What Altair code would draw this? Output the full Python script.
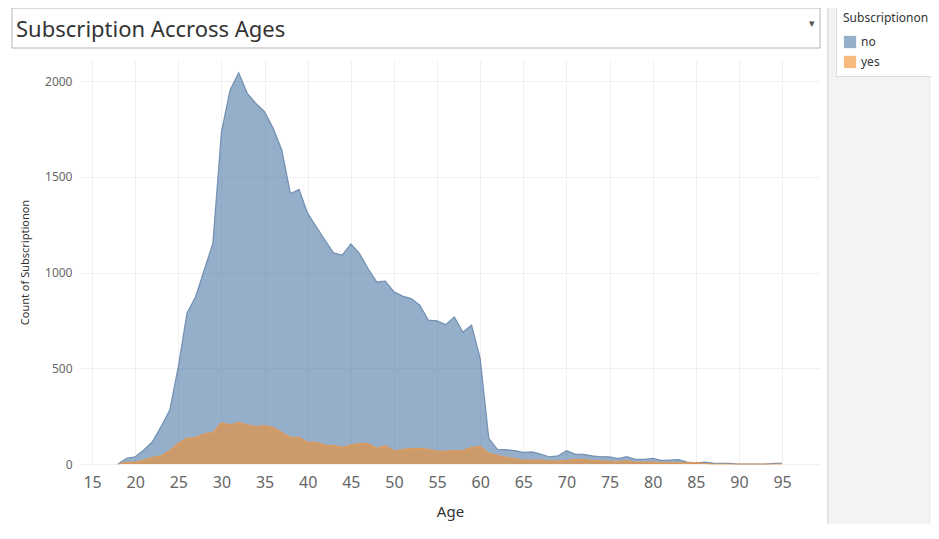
import altair as alt
import pandas as pd

ages = list(range(18, 96))
no_top = [0,30,38,73,117,195,282,509,787,874,1013,1152,1735,1953,2044,1936,1883,1840,1753,1640,
          1413,1434,1309,1239,1170,1103,1091,1149,1100,1021,951,955,900,877,864,829,751,748,728,768,
          688,726,552,134,77,75,70,61,63,52,38,42,70,52,50,42,38,37,28,38,24,24,30,19,21,23,10,5,10,5,
          3,3,0,0,0,0,3,3]
yes = [0,9,9,21,35,42,70,108,134,138,157,164,216,204,218,204,195,200,190,164,139,139,113,113,99,96,87,99,108,106,
       82,96,68,77,80,82,77,68,68,70,70,87,91,56,45,35,28,21,21,21,17,16,19,24,23,19,16,14,14,17,10,10,10,7,7,7,7,7,3,0,
       0,0,0,0,0,0,0,0]
ticks = list(range(15, 100, 5))

df_no = pd.DataFrame({"Age": ages, "Count": no_top, "Subscriptionon": "no"})
df_yes = pd.DataFrame({"Age": ages, "Count": yes, "Subscriptionon": "yes"})

W, H = 740, 404

deco = pd.DataFrame({"k": [0]})
bg = alt.Chart(deco).mark_rect(fill="#f3f3f3").encode(
    x=alt.value(749), x2=alt.value(880), y=alt.value(-70), y2=alt.value(500))
border = alt.Chart(deco).mark_rule(color="#c8c8c8").encode(
    x=alt.value(748), y=alt.value(-70), y2=alt.value(500))
tbox = alt.Chart(deco).mark_rect(fill="white", stroke="#b4b4b4").encode(
    x=alt.value(-68), x2=alt.value(740), y=alt.value(-52), y2=alt.value(-12))
ttext = alt.Chart(deco).mark_text(text="Subscription Accross Ages", align="left", baseline="middle",
                                  font="Noto Sans", fontSize=22, color="#333333").encode(
    x=alt.value(-64), y=alt.value(-30))
arrow = alt.Chart(deco).mark_text(text="▾", fontSize=11, color="#555").encode(
    x=alt.value(732), y=alt.value(-36))

cscale = alt.Scale(domain=["no", "yes"], range=["#4e79a7", "#f28e2b"])
lscale = alt.Scale(domain=["no", "yes"], range=["#5f7fa8", "#e89a50"])
legend = alt.Legend(orient="none", legendX=756, legendY=-54, symbolType="square",
                    symbolSize=150, symbolOpacity=0.6, titleFontWeight="normal",
                    titleFontSize=12, labelFontSize=12, titleColor="#333",
                    labelColor="#333", fillColor="white", strokeColor="#dddddd",
                    padding=7, titlePadding=10, rowPadding=6, labelFont="Noto Sans",
                    titleFont="Noto Sans")

xenc = alt.X("Age:Q", scale=alt.Scale(domain=[13.6, 99.4], nice=False, zero=False),
             axis=alt.Axis(values=ticks, title="Age", labelFontSize=16, labelColor="#666",
                           titleFontSize=15, titleColor="#333", titleFontWeight="normal",
                           gridColor="#f0f0f0", domain=False, ticks=False, labelPadding=10,
                           titlePadding=14, labelFont="Noto Sans", titleFont="Noto Sans"))
yenc = alt.Y("Count:Q", stack=None, scale=alt.Scale(domain=[0, 2110], nice=False),
             axis=alt.Axis(values=[0, 500, 1000, 1500, 2000], title="Count of Subscriptionon", format="d",
                           labelFontSize=12, labelColor="#666", titleFontSize=11, titleColor="#333",
                           titleFontWeight="normal", gridColor="#f0f0f0", domain=False, ticks=False,
                           labelPadding=8, titlePadding=14, labelFont="Noto Sans", titleFont="Noto Sans"))

def layer_for(d):
    a = alt.Chart(d).mark_area(fillOpacity=0.6).encode(
        x=xenc, y=yenc, color=alt.Color("Subscriptionon:N", scale=cscale, legend=legend))
    l = alt.Chart(d).mark_line(strokeWidth=1.2, opacity=0.8).encode(
        x="Age:Q", y=alt.Y("Count:Q", stack=None),
        color=alt.Color("Subscriptionon:N", scale=lscale, legend=None))
    return a, l

a_no, l_no = layer_for(df_no)
a_yes, l_yes = layer_for(df_yes)

chart = alt.layer(bg, border, tbox, ttext, arrow, a_no, l_no, a_yes, l_yes).resolve_scale(color="independent").properties(
    width=W, height=H, padding={"left": 72, "top": 52, "right": 111, "bottom": 60},
    autosize=alt.AutoSizeParams(type="none"),
).configure_view(stroke=None)

chart.save("out.html", embed_options={"renderer": "svg", "actions": False})
